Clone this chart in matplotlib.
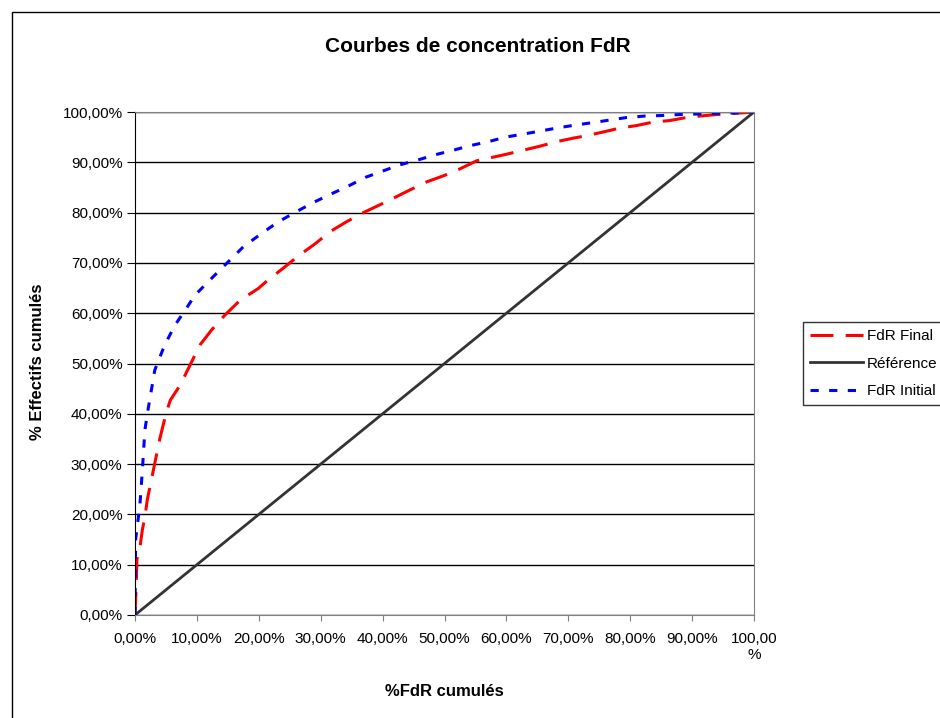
import matplotlib.pyplot as plt
from matplotlib.patches import Rectangle
from matplotlib.ticker import FuncFormatter

plt.rcParams['font.family'] = ['Liberation Sans', 'DejaVu Sans']

# --- data (percent) ---
final_x = [0, 0.2, 0.3, 0.8, 1.2, 1.6, 2.0, 2.5, 3.0, 4.0, 5.0, 5.7, 7.3, 8.9, 10.5,
           12.4, 14.5, 17.0, 19.9, 21.5, 24.0, 26.4, 29.1, 31.5, 34.2, 36.9, 39.3,
           42.3, 44.4, 47.1, 49.8, 52.5, 55.2, 57.4, 60.0, 62.7, 65.4, 68.1, 70.8,
           73.0, 75.9, 78.3, 81.0, 83.7, 86.4, 88.6, 91.3, 94.0, 96.6, 100.0]
final_y = [0, 6.0, 11.0, 13.5, 17.0, 19.5, 23.0, 26.0, 29.0, 35.0, 40.0, 42.7, 45.7,
           49.7, 53.7, 56.7, 59.6, 62.6, 64.9, 66.6, 69.0, 71.4, 73.8, 76.2, 78.2,
           80.0, 81.4, 83.2, 84.5, 86.1, 87.3, 88.7, 90.3, 90.9, 91.6, 92.4, 93.2,
           94.1, 94.8, 95.3, 96.1, 96.8, 97.3, 98.0, 98.3, 98.8, 99.2, 99.5, 99.7,
           100.0]

ref_x = [0, 10, 20, 30, 40, 50, 60, 70, 80, 90, 100]
ref_y = [0, 10, 20, 30, 40, 50, 60, 70, 80, 90, 100]

initial_x = [0, 0.1, 0.5, 0.8, 1.0, 1.2, 1.6, 2.1, 3.2, 4.8, 6.5, 8.1, 9.7, 12.1,
             14.8, 17.5, 20.5, 23.2, 26.1, 28.8, 31.5, 34.5, 37.2, 40.1, 42.8,
             45.8, 48.5, 51.4, 54.1, 57.1, 59.8, 62.7, 65.4, 68.1, 71.1, 74.0,
             76.7, 79.4, 82.4, 85.1, 88.0, 90.7, 93.7, 96.6, 100.0]
initial_y = [0, 15.0, 19.0, 22.0, 25.5, 29.0, 36.8, 40.8, 48.7, 53.7, 57.7, 60.6,
             63.6, 66.6, 69.9, 73.2, 75.9, 78.2, 80.2, 82.0, 83.6, 85.3, 87.0,
             88.3, 89.5, 90.5, 91.5, 92.4, 93.3, 94.1, 95.0, 95.6, 96.2, 96.8,
             97.4, 97.9, 98.4, 98.9, 99.2, 99.3, 99.5, 99.6, 99.7, 99.8, 100.0]

ticks = [0, 10, 20, 30, 40, 50, 60, 70, 80, 90, 100]


def pct(v, pos=None):
    return f"{v:.2f}%".replace(".", ",")


def pct_x(v, pos=None):
    # Excel wraps the last label onto two lines
    if v >= 100:
        return "100,00\n%"
    return pct(v)


fig = plt.figure(figsize=(9.4, 7.18), dpi=100)

# outer chart-area border (runs off the right/bottom edge like the original)
fig.patches.append(Rectangle((12 / 940, -0.1), 1.0, 1 - 12 / 718 + 0.1,
                             transform=fig.transFigure, fill=False,
                             edgecolor='black', linewidth=1.0))

ax = fig.add_axes([135 / 940, 1 - 615 / 718, (754 - 135) / 940, (615 - 112) / 718])

ax.plot(final_x, final_y, color='#ff0000', linewidth=2.2,
        dashes=(7.5, 4), label='FdR Final')
ax.plot(ref_x, ref_y, color='#333333', linewidth=2.0, label='Référence')
ax.plot(initial_x, initial_y, color='#0000ff', linewidth=2.2,
        dashes=(2.7, 3.4), label='FdR Initial')

ax.set_xlim(0, 100)
ax.set_ylim(0, 100)
ax.set_xticks(ticks)
ax.set_yticks(ticks)
ax.xaxis.set_major_formatter(FuncFormatter(pct_x))
ax.yaxis.set_major_formatter(FuncFormatter(pct))
ax.tick_params(axis='x', labelsize=11, direction='out', length=4, pad=8,
               color='#808080')
ax.tick_params(axis='y', labelsize=11, direction='out', length=6, pad=3,
               color='black')
for lab in ax.get_xticklabels():
    lab.set_multialignment('center')

ax.grid(axis='y', color='black', linewidth=1.0)
ax.set_axisbelow(True)
for side in ['top', 'right', 'bottom']:
    ax.spines[side].set_color('#808080')
ax.spines['left'].set_color('black')

fig.text(478 / 940, 1 - 46 / 718, 'Courbes de concentration FdR',
         ha='center', va='center', fontsize=15, fontweight='bold')
fig.text(444 / 940, 1 - 692 / 718, '%FdR cumulés',
         ha='center', va='center', fontsize=12, fontweight='bold')
fig.text(38 / 940, 1 - 362 / 718, '% Effectifs cumulés', rotation=90,
         ha='center', va='center', fontsize=12, fontweight='bold')

# legend box runs past the right edge, as in the original
leg = ax.legend(loc='upper left', bbox_to_anchor=(803 / 940, 1 - 322 / 718),
                bbox_transform=fig.transFigure, fontsize=11, frameon=True,
                fancybox=False, handlelength=3.45, borderpad=0.45,
                labelspacing=0.9, handletextpad=0.3, borderaxespad=0)
leg.get_frame().set_edgecolor('black')
leg.get_frame().set_linewidth(1.0)

fig.savefig('out.png', dpi=100)
